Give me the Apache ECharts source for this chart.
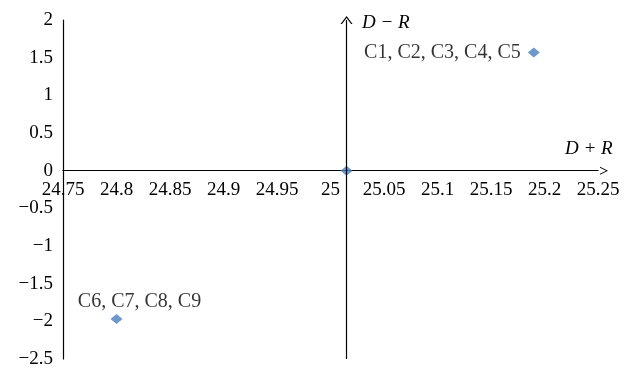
<!DOCTYPE html>
<html>
<head>
<meta charset="utf-8">
<script src="https://cdn.jsdelivr.net/npm/echarts@6/dist/echarts.min.js"></script>
<style>
  html, body { margin: 0; padding: 0; background: #fff; }
  #chart { width: 633px; height: 368px; }
</style>
</head>
<body>
<div id="chart"></div>
<script>
// points: (D+R, D-R)
const pointX = [25.19, 25.015, 24.8]
const pointY = [1.57, 0, -1.97]
const pointLabels = ['C1, C2, C3, C4, C5', '', 'C6, C7, C8, C9']

const xTicks = { min: 24.75, max: 25.25, step: 0.05 }
const yTicks = { min: -2.5, max: 2, step: 0.5 }

const FONT = 'Liberation Serif'
const minus = v => String(v).replace('-', '\u2212')
// open chevron arrow head (points up, rotated by the axis)
const CHEVRON = 'path://M0,10 L5,0 L10,10 L8.8,10 L5,2.4 L1.2,10 Z'

const grid = { left: 63, right: 35, top: 20, bottom: 9, outerBoundsMode: 'none' }
const gridH = 368 - grid.top - grid.bottom
// put the x axis (line and labels) on y = 0
const xOffset = -gridH * (0 - yTicks.min) / (yTicks.max - yTicks.min)

const chart = echarts.init(document.getElementById('chart'))

const data = pointX.map((x, i) => {
  const item = { value: [x, pointY[i]] }
  if (i === 0) {
    item.label = { show: true, position: 'left', distance: 7, formatter: pointLabels[i] }
  } else if (i === 2) {
    item.label = { show: true, position: 'top', distance: 2, offset: [23, 0], formatter: pointLabels[i] }
  }
  return item
})

chart.setOption({
  animation: false,
  grid: grid,
  xAxis: {
    type: 'value',
    min: xTicks.min,
    max: xTicks.max,
    interval: xTicks.step,
    offset: xOffset,
    splitLine: { show: false },
    axisTick: { show: false },
    axisLine: {
      onZero: false,
      symbol: ['none', CHEVRON],
      symbolSize: [12, 8],
      symbolOffset: [0, 6],
      lineStyle: { color: '#000', width: 1.2 }
    },
    axisLabel: {
      color: '#000', fontFamily: FONT, fontSize: 19, margin: 10,
      showMinLabel: true, showMaxLabel: true,
      formatter: minus
    }
  },
  yAxis: {
    type: 'value',
    min: yTicks.min,
    max: yTicks.max,
    interval: yTicks.step,
    splitLine: { show: false },
    axisTick: { show: false },
    axisLine: {
      show: true,
      onZero: false,
      lineStyle: { color: '#000', width: 1.2 }
    },
    axisLabel: {
      color: '#000', fontFamily: FONT, fontSize: 19, margin: 10,
      formatter: minus
    }
  },
  graphic: [
    {
      type: 'text', left: 362, top: 13,
      style: { text: 'D \u2212 R', font: 'italic 19px "Liberation Serif"', fill: '#000' }
    },
    {
      type: 'text', left: 565, top: 139,
      style: { text: 'D + R', font: 'italic 19px "Liberation Serif"', fill: '#000' }
    }
  ],
  series: [{
    type: 'scatter',
    symbol: 'diamond',
    symbolSize: [12, 10],
    itemStyle: { color: '#4a7ebb' },
    label: { color: '#000', fontFamily: FONT, fontSize: 20 },
    data: data,
    markLine: {
      silent: true,
      precision: 4,
      symbol: ['none', CHEVRON],
      symbolSize: [12, 8],
      label: { show: false },
      lineStyle: { color: '#000', width: 1.2, type: 'solid' },
      data: [{ xAxis: pointX[1] }]
    }
  }]
})
</script>
</body>
</html>
